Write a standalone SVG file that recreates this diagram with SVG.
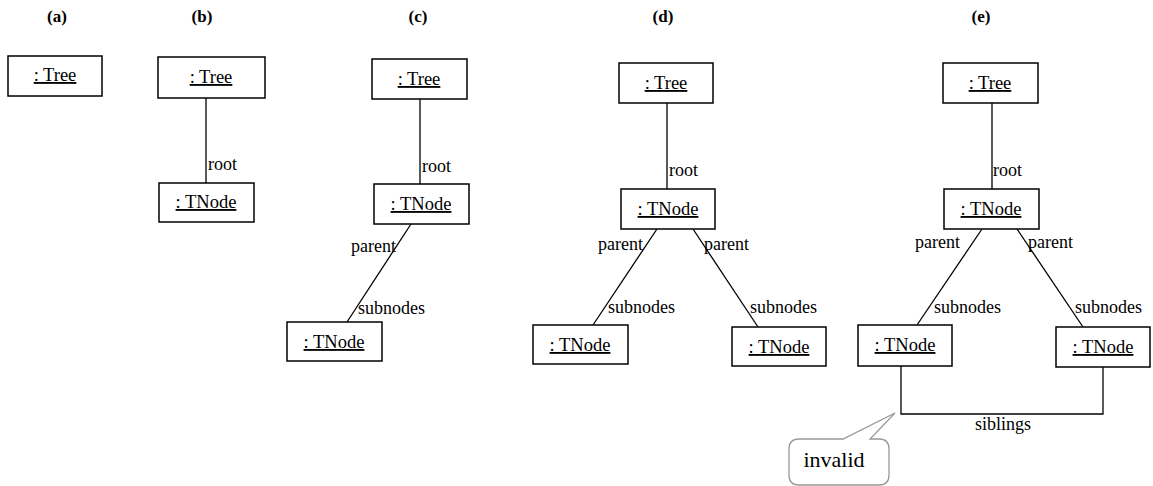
<svg xmlns="http://www.w3.org/2000/svg" width="1153" height="486" viewBox="0 0 1153 486">
<style>
text{font-family:'Liberation Serif','Times New Roman',Times,'DejaVu Serif',serif;fill:#000}
.t{font-size:17px;font-weight:bold;text-anchor:middle}
.n{font-size:18.5px;text-anchor:middle;text-decoration:underline}
.l{font-size:18px}
.box{fill:#fff;stroke:#000;stroke-width:1.5}
.c{fill:none;stroke:#000;stroke-width:1.3}
</style>
<rect width="1153" height="486" fill="#fff"/>
<g id="titles">
<text class="t" x="57" y="22" font-family="Liberation Serif">(a)</text>
<text class="t" x="202" y="22">(b)</text>
<text class="t" x="418" y="22">(c)</text>
<text class="t" x="663" y="22">(d)</text>
<text class="t" x="981" y="22">(e)</text>
</g>
<g id="connectors">
<line class="c" x1="206" y1="98" x2="206" y2="183"/>
<line class="c" x1="420" y1="99" x2="420" y2="184"/>
<line class="c" x1="411" y1="224" x2="347" y2="322"/>
<line class="c" x1="667" y1="103" x2="667" y2="189"/>
<line class="c" x1="657" y1="229" x2="593" y2="325"/>
<line class="c" x1="693" y1="229" x2="758" y2="327"/>
<line class="c" x1="992" y1="103" x2="992" y2="189"/>
<line class="c" x1="982" y1="229" x2="917" y2="325"/>
<line class="c" x1="1017" y1="229" x2="1083" y2="327"/>
<polyline class="c" points="901,366 901,414 1103,414 1103,367"/>
<text class="l" x="208" y="170">root</text>
<text class="l" x="422" y="172">root</text>
<text class="l" x="396" y="252" text-anchor="end">parent</text>
<text class="l" x="358" y="314">subnodes</text>
<text class="l" x="669" y="176">root</text>
<text class="l" x="643" y="250" text-anchor="end">parent</text>
<text class="l" x="704" y="250">parent</text>
<text class="l" x="608" y="313">subnodes</text>
<text class="l" x="750" y="313">subnodes</text>
<text class="l" x="993" y="176">root</text>
<text class="l" x="960" y="248" text-anchor="end">parent</text>
<text class="l" x="1028" y="248">parent</text>
<text class="l" x="934" y="313">subnodes</text>
<text class="l" x="1075" y="313">subnodes</text>
<text class="l" x="1003" y="430" text-anchor="middle">siblings</text>
</g>
<g id="a-tree"><rect class="box" x="8" y="56" width="94" height="40"/><text class="n" x="55" y="81">: Tree</text></g>
<g id="b-tree"><rect class="box" x="158" y="57" width="107" height="41"/><text class="n" x="211" y="83">: Tree</text></g>
<g id="b-tnode"><rect class="box" x="159" y="183" width="95" height="39"/><text class="n" x="206" y="208">: TNode</text></g>
<g id="c-tree"><rect class="box" x="372" y="59" width="95" height="40"/><text class="n" x="419" y="85">: Tree</text></g>
<g id="c-tnode"><rect class="box" x="374" y="184" width="95" height="40"/><text class="n" x="421" y="210">: TNode</text></g>
<g id="c-sub"><rect class="box" x="287" y="322" width="95" height="39"/><text class="n" x="334" y="348">: TNode</text></g>
<g id="d-tree"><rect class="box" x="619" y="63" width="94" height="40"/><text class="n" x="666" y="89">: Tree</text></g>
<g id="d-tnode"><rect class="box" x="621" y="189" width="94" height="40"/><text class="n" x="668" y="215">: TNode</text></g>
<g id="d-sub1"><rect class="box" x="533" y="325" width="95" height="39"/><text class="n" x="580" y="351">: TNode</text></g>
<g id="d-sub2"><rect class="box" x="732" y="327" width="94" height="39"/><text class="n" x="779" y="353">: TNode</text></g>
<g id="e-tree"><rect class="box" x="943" y="63" width="95" height="40"/><text class="n" x="990" y="89">: Tree</text></g>
<g id="e-tnode"><rect class="box" x="944" y="189" width="95" height="40"/><text class="n" x="991" y="215">: TNode</text></g>
<g id="e-sub1"><rect class="box" x="858" y="325" width="94" height="41"/><text class="n" x="905" y="351">: TNode</text></g>
<g id="e-sub2"><rect class="box" x="1056" y="327" width="94" height="40"/><text class="n" x="1103" y="353">: TNode</text></g>
<g id="e-callout">
<path d="M799,439 L843,439 L895,413 L870,439 L879,439 Q889,439 889,449 L889,475 Q889,485 879,485 L799,485 Q789,485 789,475 L789,449 Q789,439 799,439 Z" fill="#fff" stroke="#999" stroke-width="1.3"/>
<text x="834" y="467" text-anchor="middle" style="font-size:22px">invalid</text>
</g>
</svg>
